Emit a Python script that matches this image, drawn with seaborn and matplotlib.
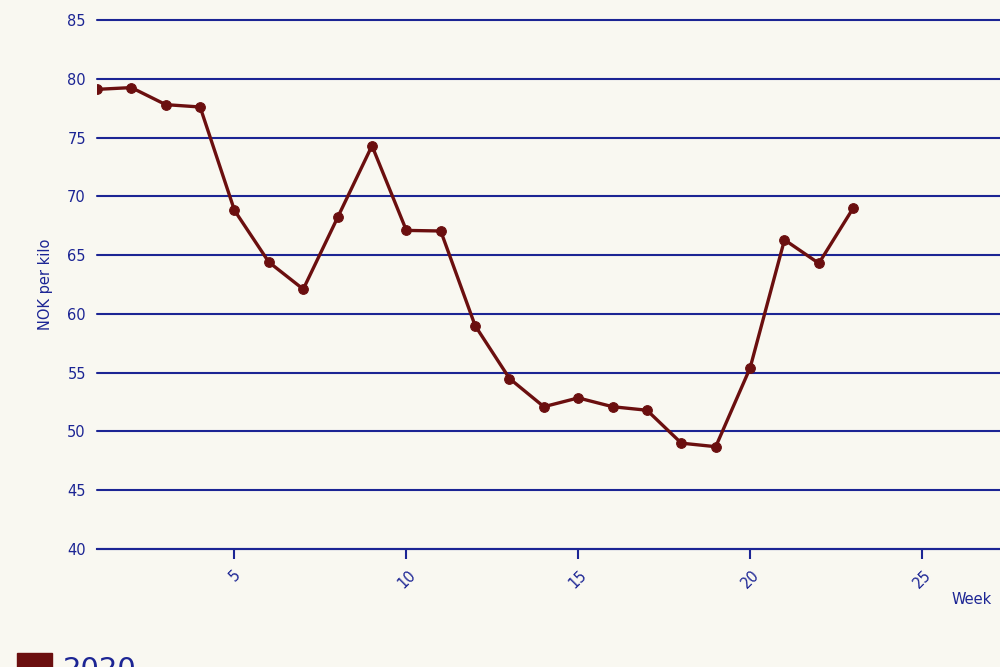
import matplotlib
matplotlib.use("Agg")
import matplotlib.pyplot as plt
import matplotlib.patches as mpatches
import seaborn as sns
import pandas as pd

# weekly price, NOK per kilo
weeks = list(range(1, 24))
price = [79.1, 79.25, 77.8, 77.6, 68.8, 64.4, 62.1, 68.2, 74.3, 67.1, 67.05,
         59.0, 54.5, 52.1, 52.85, 52.1, 51.8, 49.0, 48.7, 55.4, 66.3, 64.3, 69.0]
year = "2020"
yticks = [40, 45, 50, 55, 60, 65, 70, 75, 80, 85]
xticks = [5, 10, 15, 20, 25]

bg = "#f9f8f1"
navy = "#1c2594"
maroon = "#6b0f0f"

sns.set_style("white")
plt.rcParams['font.family'] = ['DejaVu Sans']

df = pd.DataFrame({"Week": weeks, "price": price})

fig = plt.figure(figsize=(10, 6.67), dpi=100, facecolor=bg)
ax = fig.add_axes([0.097, 0.177, 0.903, 0.793])
ax.set_facecolor(bg)

sns.lineplot(data=df, x="Week", y="price", color=maroon, marker="o",
             markersize=7, markeredgecolor=maroon, linewidth=2.4, ax=ax)

ax.set_xlim(1, 27.27)
ax.set_ylim(40, 85)
ax.set_yticks(yticks)
ax.set_xticks(xticks)
ax.grid(axis="y", color=navy, linewidth=1.5)
ax.set_axisbelow(True)
for gl in ax.get_ygridlines():
    gl.set_clip_on(False)
for s in ["top", "right", "left"]:
    ax.spines[s].set_visible(False)
ax.spines["bottom"].set_color(navy)
ax.spines["bottom"].set_linewidth(1.5)
ax.tick_params(axis="y", length=0, pad=8, labelsize=10.5, labelcolor=navy)
ax.tick_params(axis="x", length=7, width=1.5, color=navy, labelsize=10.5,
               labelcolor=navy, labelrotation=45, pad=6, bottom=True)
for lbl in ax.get_xticklabels():
    lbl.set_ha("center")
    lbl.set_va("top")

ax.set_ylabel("NOK per kilo", color=navy, fontsize=10.5, labelpad=10)
ax.set_xlabel("")
fig.text(0.972, 0.101, "Week", color=navy, fontsize=10.5, ha="center", va="center")

fig.legend(handles=[mpatches.Patch(facecolor=maroon, edgecolor=maroon, label=year)],
           loc="upper left", bbox_to_anchor=(0.002, 0.043), frameon=False,
           fontsize=21, labelcolor=navy, handlelength=1.2, handleheight=1.2,
           handletextpad=0.4, borderpad=0)

fig.savefig("out.png", dpi=100, facecolor=bg)
